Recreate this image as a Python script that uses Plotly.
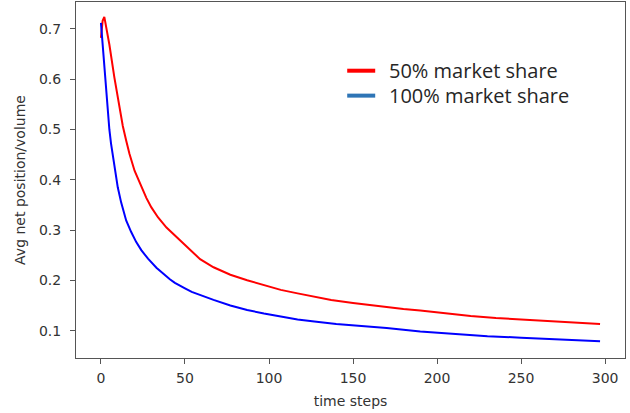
import plotly.graph_objects as go

red_x = [0, 1, 2, 3, 5, 8, 11, 13, 15, 17, 20, 24, 27, 30, 34, 39, 44, 49, 54, 59, 67, 77, 87,
         97, 107, 117, 127, 137, 150, 166, 180, 190, 205, 220, 235, 250, 265, 280, 297]
red_y = [0.682, 0.716, 0.724, 0.706, 0.669, 0.603, 0.545, 0.507, 0.478, 0.451, 0.418, 0.387,
         0.364, 0.345, 0.325, 0.305, 0.289, 0.273, 0.257, 0.242, 0.226, 0.211, 0.200, 0.190,
         0.181, 0.174, 0.167, 0.161, 0.155, 0.148, 0.143, 0.140, 0.134, 0.129, 0.125, 0.122,
         0.119, 0.116, 0.113]

blue_x = [0, 1, 2, 3, 4, 5, 6, 7, 8, 9, 10, 12, 15, 18, 21, 24, 28, 33, 38, 41, 44, 47, 50, 54,
          58, 67, 77, 87, 97, 107, 117, 127, 140, 155, 170, 190, 210, 230, 250, 270, 297]
blue_y = [0.712, 0.669, 0.625, 0.583, 0.537, 0.500, 0.472, 0.450, 0.428, 0.405, 0.385, 0.355,
          0.319, 0.296, 0.276, 0.260, 0.243, 0.225, 0.210, 0.202, 0.195, 0.189, 0.184, 0.177,
          0.172, 0.161, 0.150, 0.141, 0.134, 0.128, 0.122, 0.118, 0.113, 0.109, 0.105, 0.098,
          0.093, 0.089, 0.086, 0.083, 0.079]

series_names = ["50% market share", "100% market share"]
x_ticks = [0, 50, 100, 150, 200, 250, 300]
y_ticks = [0.1, 0.2, 0.3, 0.4, 0.5, 0.6, 0.7]

fig = go.Figure()
fig.add_trace(go.Scatter(x=red_x, y=red_y, mode="lines", name=series_names[0],
                         line=dict(color="#ff0000", width=2), showlegend=False))
fig.add_trace(go.Scatter(x=blue_x, y=blue_y, mode="lines", name=series_names[1],
                         line=dict(color="#0000ff", width=2), showlegend=False))

tick_font = dict(family="DejaVu Sans", size=14, color="#333333")
axis_common = dict(showgrid=False, zeroline=False, showline=True, linecolor="#555555",
                   linewidth=1, mirror=True, ticks="outside", ticklen=5, tickwidth=1,
                   tickcolor="#555555", tickfont=tick_font)

fig.update_layout(
    width=630, height=413,
    margin=dict(l=76, r=5, t=2, b=55),
    paper_bgcolor="white", plot_bgcolor="white",
    xaxis=dict(range=[-14.85, 311.85], tickvals=x_ticks, ticktext=[str(v) for v in x_ticks],
               ticklabelstandoff=2,
               title=dict(text="time steps", font=tick_font, standoff=11), **axis_common),
    yaxis=dict(range=[0.0455, 0.7535], tickvals=y_ticks, ticktext=[f"{v:.1f}" for v in y_ticks],
               ticklabelstandoff=6,
               title=dict(text="Avg net position/volume", font=tick_font, standoff=10),
               **axis_common),
)

legend_colors = ["#ff0000", "#2e75b6"]
legend_y = [0.807, 0.737]
for name, col, yy in zip(series_names, legend_colors, legend_y):
    fig.add_shape(type="line", xref="paper", yref="paper", x0=0.494, x1=0.545, y0=yy, y1=yy,
                  line=dict(color=col, width=4))
    fig.add_annotation(xref="paper", yref="paper", x=0.566, y=yy, text=name, showarrow=False,
                       xanchor="left", yanchor="middle",
                       font=dict(family="Open Sans", size=20, color="#262626"))

fig.write_html("out.html", config={"displayModeBar": False},
               post_script="document.body.style.margin='0';")
